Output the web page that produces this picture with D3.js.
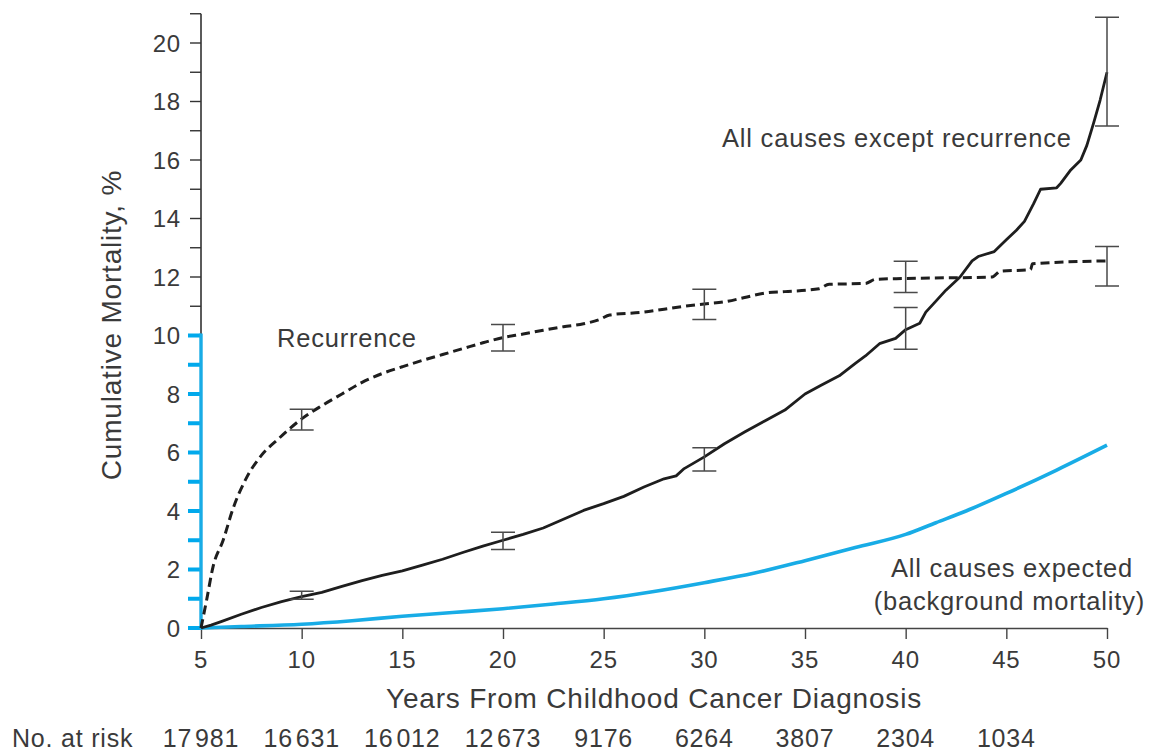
<!DOCTYPE html>
<html>
<head>
<meta charset="utf-8">
<script src="https://cdn.jsdelivr.net/npm/d3@7"></script>
<style>
  body { margin: 0; background: #fff; }
  text { font-family: "Liberation Sans", Arial, sans-serif; fill: #3a3a3a; letter-spacing: 0.8px; }
</style>
</head>
<body>
<div id="chart"></div>
<script>
// --- data ---
const xTicks = [5, 10, 15, 20, 25, 30, 35, 40, 45, 50];
const yLabels = [0, 2, 4, 6, 8, 10, 12, 14, 16, 18, 20];

const riskYears = [5, 10, 15, 20, 25, 30, 35, 40, 45];
const riskCounts = [17981, 16631, 16012, 12673, 9176, 6264, 3807, 2304, 1034];

// All causes except recurrence (solid, KM-ish steps)
const allCauses = [
  [5, 0], [5.5, 0.1], [6, 0.22], [7, 0.47], [8, 0.7], [9, 0.9], [10, 1.07], [11, 1.22],
  [12, 1.42], [13, 1.62], [14, 1.8], [15, 1.95], [16, 2.15], [17, 2.35], [18, 2.58],
  [19, 2.8], [20, 3.0], [21, 3.2], [22, 3.42], [23, 3.72], [24, 4.02], [25, 4.25],
  [26, 4.5], [27, 4.82], [28, 5.1], [28.6, 5.2], [29, 5.45], [30, 5.85], [31, 6.3],
  [32, 6.7], [33, 7.08], [34, 7.45], [35, 8.0], [35.8, 8.3], [36.7, 8.62], [37.5, 9.05],
  [38, 9.3], [38.7, 9.72], [39.5, 9.9], [40, 10.2], [40.7, 10.42], [41, 10.8], [41.4, 11.1],
  [42, 11.55], [42.7, 12.0], [43.3, 12.55], [43.6, 12.7], [44.4, 12.87], [45, 13.27],
  [45.5, 13.6], [45.9, 13.9], [46.35, 14.5], [46.7, 15.0], [47.5, 15.05], [47.7, 15.2],
  [48.2, 15.66], [48.7, 16.0], [49, 16.5], [49.33, 17.25], [49.66, 18.05], [50, 19.0]
];

// Recurrence (dashed)
const recurrence = [
  [5, 0], [5.28, 0.96], [5.6, 2.1], [6.1, 3.0], [6.6, 4.1], [7.27, 5.15], [8, 5.9],
  [8.9, 6.5], [10, 7.15], [11, 7.6], [12, 8.0], [13, 8.4], [14, 8.7], [15, 8.93],
  [16, 9.15], [17, 9.35], [18, 9.55], [19, 9.75], [20, 9.93], [21, 10.05], [22, 10.18],
  [23, 10.3], [24, 10.4], [24.8, 10.55], [25.3, 10.7], [27, 10.8], [28, 10.9], [29, 11.0],
  [30, 11.08], [31, 11.15], [32, 11.3], [33, 11.45], [34, 11.5], [35.7, 11.6], [36.2, 11.75],
  [38, 11.78], [38.5, 11.92], [40, 11.95], [44.3, 12.0], [44.7, 12.2], [46.2, 12.25],
  [46.3, 12.45], [50, 12.55]
];

// All causes expected (background mortality, blue)
const expected = [
  [5, 0], [7, 0.05], [10, 0.13], [12.5, 0.25], [15, 0.4], [17.5, 0.53], [20, 0.66],
  [22.5, 0.82], [25, 1.0], [27.5, 1.25], [30, 1.55], [32.5, 1.88], [35, 2.3], [37.5, 2.75],
  [40, 3.2], [41.5, 3.6], [43, 4.0], [45, 4.6], [47.5, 5.4], [50, 6.25]
];

// 95% CI bars [year, low, high]
const allCausesCI = [[10, 0.98, 1.26], [20, 2.68, 3.27], [30, 5.37, 6.16], [40, 9.53, 10.96], [50, 17.16, 20.88]];
const recurrenceCI = [[10, 6.77, 7.48], [20, 9.47, 10.38], [30, 10.55, 11.58], [40, 11.47, 12.54], [50, 11.69, 13.04]];

// --- layout ---
const W = 1149, H = 756;
const blue = "#18ace6";
const ink = "#1e1e1e";

const svg = d3.select("#chart").append("svg")
  .attr("width", W)
  .attr("height", H);

const x = d3.scaleLinear().domain([5, 50]).range([201, 1107]);
const y = d3.scaleLinear().domain([0, 20]).range([628, 43]);

// --- x axis ---
const xAxis = d3.axisBottom(x).tickValues(xTicks).tickSize(11).tickSizeOuter(0).tickFormat("");
const gx = svg.append("g")
  .attr("transform", `translate(0, ${y(0)})`)
  .call(xAxis);
gx.select(".domain").attr("stroke", "#444").attr("stroke-width", 1.6);
gx.selectAll(".tick line").attr("stroke", "#444").attr("stroke-width", 1.4);

svg.append("g").selectAll("text")
  .data(xTicks)
  .enter().append("text")
  .attr("x", d => x(d))
  .attr("y", 668)
  .attr("text-anchor", "middle")
  .style("font-size", "24px")
  .text(d => d);

// --- y axis: black upper part (10-21), blue lower part (0-10) ---
const x0 = x(5);
const yAxisG = svg.append("g");

yAxisG.append("rect")
  .attr("x", x0 - 0.8)
  .attr("y", y(21))
  .attr("width", 1.6)
  .attr("height", y(10) - y(21))
  .attr("fill", "#333");

// ticks at every unit; blue in the 0-10 stretch
yAxisG.selectAll(".ytick")
  .data(d3.range(0, 22))
  .enter().append("rect")
  .attr("class", "ytick")
  .attr("x", d => d <= 10 ? x0 - 13 : x0 - 11)
  .attr("width", d => d <= 10 ? 13 : 11)
  .attr("y", d => y(d) - (d <= 10 ? 2 : 0.7))
  .attr("height", d => d <= 10 ? 4 : 1.4)
  .attr("fill", d => d <= 10 ? "#00a9ec" : "#333");

yAxisG.append("rect")
  .attr("x", x0 - 1.7)
  .attr("y", y(10) - 2)
  .attr("width", 3.4)
  .attr("height", y(0) - y(10) + 4)
  .attr("fill", blue);

svg.append("g").selectAll("text")
  .data(yLabels)
  .enter().append("text")
  .attr("x", 181)
  .attr("y", d => y(d) + 8.5)
  .attr("text-anchor", "end")
  .style("font-size", "24px")
  .text(d => d);

// --- axis titles ---
svg.append("text")
  .attr("x", 654)
  .attr("y", 708)
  .attr("text-anchor", "middle")
  .style("font-size", "28px")
  .text("Years From Childhood Cancer Diagnosis");

svg.append("text")
  .attr("transform", `translate(121, ${325}) rotate(-90)`)
  .attr("text-anchor", "middle")
  .style("font-size", "28px")
  .text("Cumulative Mortality, %");

// --- number at risk row ---
svg.append("text")
  .attr("x", 12)
  .attr("y", 747)
  .style("font-size", "25px")
  .text("No. at risk");

const fmtRisk = n => n >= 10000
  ? String(n).slice(0, -3) + "\u200A" + String(n).slice(-3)
  : String(n);

svg.append("g").selectAll("text")
  .data(riskYears.map((yr, i) => ({ yr, n: riskCounts[i] })))
  .enter().append("text")
  .attr("x", d => x(d.yr))
  .attr("y", 747)
  .attr("text-anchor", "middle")
  .style("font-size", "25px")
  .text(d => fmtRisk(d.n));

// --- lines ---
const smooth = d3.line()
  .x(d => x(d[0]))
  .y(d => y(d[1]))
  .curve(d3.curveMonotoneX);

const straight = d3.line()
  .x(d => x(d[0]))
  .y(d => y(d[1]));

svg.append("path")
  .datum(expected)
  .attr("fill", "none")
  .attr("stroke", blue)
  .attr("stroke-width", 3.6)
  .attr("stroke-linejoin", "round")
  .attr("d", smooth);

svg.append("path")
  .datum(recurrence)
  .attr("fill", "none")
  .attr("stroke", ink)
  .attr("stroke-width", 3)
  .attr("stroke-dasharray", "9,5")
  .attr("d", smooth);

svg.append("path")
  .datum(allCauses)
  .attr("fill", "none")
  .attr("stroke", ink)
  .attr("stroke-width", 2.8)
  .attr("stroke-linejoin", "round")
  .attr("d", straight);

// --- error bars ---
const capHalf = 12;
function drawCI(data) {
  const g = svg.append("g")
    .attr("stroke", "#4a4a4a")
    .attr("stroke-width", 1.5)
    .attr("fill", "none");
  g.selectAll(".ci")
    .data(data)
    .enter().append("path")
    .attr("d", d => {
      const cx = x(d[0]), lo = y(d[1]), hi = y(d[2]);
      return `M${cx - capHalf},${hi}H${cx + capHalf}M${cx},${hi}V${lo}M${cx - capHalf},${lo}H${cx + capHalf}`;
    });
}
drawCI(allCausesCI);
drawCI(recurrenceCI);

// --- annotations ---
svg.append("text")
  .attr("x", 722)
  .attr("y", 147)
  .style("font-size", "25.5px")
  .text("All causes except recurrence");

svg.append("text")
  .attr("x", 277)
  .attr("y", 347)
  .style("font-size", "25.5px")
  .text("Recurrence");

svg.append("text")
  .attr("x", 1133)
  .attr("y", 577)
  .attr("text-anchor", "end")
  .style("font-size", "25.5px")
  .text("All causes expected");

svg.append("text")
  .attr("x", 1145)
  .attr("y", 610)
  .attr("text-anchor", "end")
  .style("font-size", "25.5px")
  .text("(background mortality)");
</script>
</body>
</html>
